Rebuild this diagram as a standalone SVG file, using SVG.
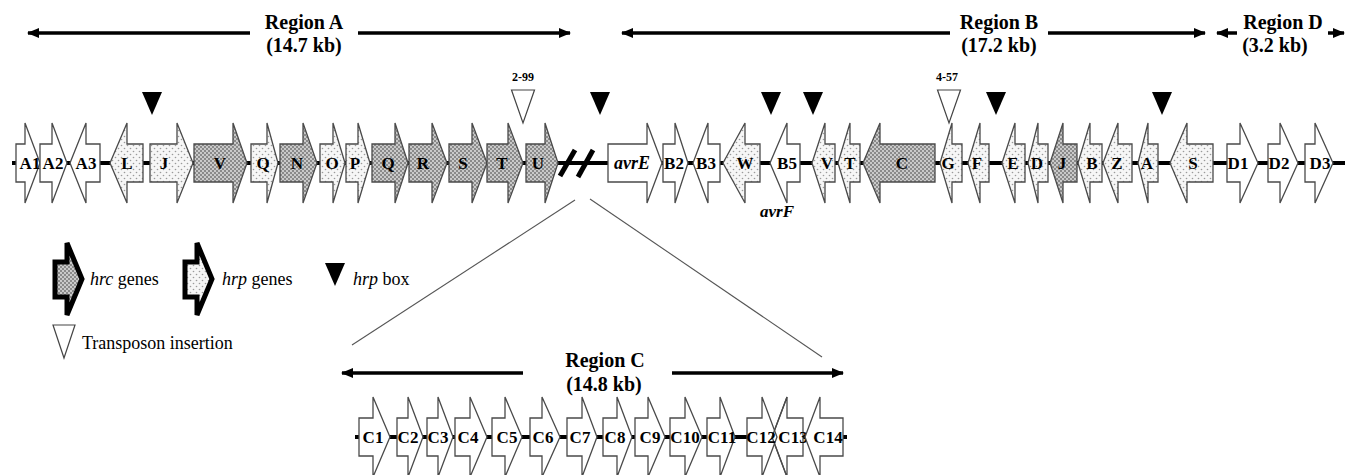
<svg xmlns="http://www.w3.org/2000/svg" width="1350" height="475" viewBox="0 0 1350 475">
<defs>
<pattern id="pHrc" width="4" height="4" patternUnits="userSpaceOnUse">
<rect width="4" height="4" fill="#8a8a8a"/>
<circle cx="1" cy="1" r="0.9" fill="#e8e8e8"/>
<circle cx="3" cy="3" r="0.9" fill="#e8e8e8"/>
</pattern>
<pattern id="pHrp" width="6" height="6" patternUnits="userSpaceOnUse">
<rect width="6" height="6" fill="#f6f6f6"/>
<circle cx="1.5" cy="1.5" r="0.8" fill="#9a9a9a"/>
<circle cx="4.5" cy="4.5" r="0.8" fill="#9a9a9a"/>
</pattern>
<marker id="ah" markerWidth="12" markerHeight="10" refX="11" refY="5" orient="auto" markerUnits="userSpaceOnUse">
<path d="M0,0 L12,5 L0,10 z" fill="#000"/>
</marker>
</defs>
<style>
.g{stroke:#4a4a4a;stroke-width:1.3;stroke-linejoin:miter}
.w{fill:#fff}
.d{fill:url(#pHrp)}
.h{fill:url(#pHrc)}
.t{font-family:"Liberation Serif","Times New Roman",serif;font-weight:bold;font-size:17px;text-anchor:middle;fill:#000}
.ti{font-style:italic}
.rt{font-family:"Liberation Serif","Times New Roman",serif;font-weight:bold;font-size:20px;text-anchor:middle;fill:#000}
.lt{font-family:"Liberation Serif","Times New Roman",serif;font-size:18px;fill:#000}
.ra{stroke:#000;stroke-width:3.5;fill:none;marker-end:url(#ah)}
.box{fill:#000}
.tn{fill:#fff;stroke:#444;stroke-width:1.2}
.sm{font-family:"Liberation Serif","Times New Roman",serif;font-weight:bold;font-size:12px;text-anchor:middle;fill:#000}
</style>

<g id="connectors">
<line x1="12" y1="163" x2="1345" y2="163" stroke="#000" stroke-width="4"/>
<line x1="355" y1="437" x2="847" y2="437" stroke="#000" stroke-width="4"/>
<line x1="575" y1="200" x2="352" y2="345" stroke="#555" stroke-width="1.1"/>
<line x1="590" y1="199" x2="822" y2="357" stroke="#555" stroke-width="1.1"/>
<g id="break">
<line x1="560" y1="176" x2="575" y2="150" stroke="#000" stroke-width="5"/>
<line x1="578" y1="177" x2="593" y2="150" stroke="#000" stroke-width="5"/>
</g>
</g>

<g id="regions">
<g id="regionA">
<line class="ra" x1="250" y1="33" x2="28" y2="33"/>
<line class="ra" x1="358" y1="33" x2="570" y2="33"/>
<text class="rt" x="304" y="29">Region A</text>
<text class="rt" x="304" y="52">(14.7 kb)</text>
</g>
<g id="regionB">
<line class="ra" x1="950" y1="33" x2="622" y2="33"/>
<line class="ra" x1="1048" y1="33" x2="1205" y2="33"/>
<text class="rt" x="999" y="29">Region B</text>
<text class="rt" x="999" y="52">(17.2 kb)</text>
</g>
<g id="regionD">
<line class="ra" x1="1237" y1="33" x2="1217" y2="33"/>
<line class="ra" x1="1328" y1="33" x2="1344" y2="33"/>
<text class="rt" x="1283" y="29">Region D</text>
<text class="rt" x="1275" y="52">(3.2 kb)</text>
</g>
<g id="regionC">
<line class="ra" x1="523" y1="373" x2="342" y2="373"/>
<line class="ra" x1="672" y1="373" x2="843" y2="373"/>
<text class="rt" x="605" y="367">Region C</text>
<text class="rt" x="604" y="391">(14.8 kb)</text>
</g>
</g>

<g id="markers">
<polygon class="box" points="142,92 162,92 152,115"/>
<polygon class="box" points="590,92 610,92 600,115"/>
<polygon class="box" points="761,92 781,92 771,115"/>
<polygon class="box" points="803,92 823,92 813,115"/>
<polygon class="box" points="986,92 1006,92 996,115"/>
<polygon class="box" points="1152,92 1172,92 1162,115"/>
<g id="tn2-99"><polygon class="tn" points="511.5,90 534.5,90 523,123"/><text class="sm" x="523" y="81">2-99</text></g>
<g id="tn4-57"><polygon class="tn" points="937.5,90 960.5,90 949,123"/><text class="sm" x="947" y="81">4-57</text></g>
</g>

<g id="genesA">
<g id="A1"><polygon class="g w" points="16,144 25,144 25,123 40,163 25,203 25,182 16,182"/><text class="t" x="30" y="169">A1</text></g>
<g id="A2"><polygon class="g w" points="40,144 52,144 52,123 67,163 52,203 52,182 40,182"/><text class="t" x="53" y="169">A2</text></g>
<g id="A3"><polygon class="g w" points="100,144 86,144 86,123 70,163 86,203 86,182 100,182"/><text class="t" x="86" y="169">A3</text></g>
<g id="hrpL"><polygon class="g d" points="143,144 127,144 127,123 110,163 127,203 127,182 143,182"/><text class="t" x="127" y="169">L</text></g>
<g id="hrpJ"><polygon class="g d" points="150,144 177,144 177,123 193,163 177,203 177,182 150,182"/><text class="t" x="164" y="169">J</text></g>
<g id="hrcV"><polygon class="g h" points="194,144 233,144 233,123 247,163 233,203 233,182 194,182"/><text class="t" x="220" y="169">V</text></g>
<g id="hrpQ"><polygon class="g d" points="251,144 267,144 267,123 278,163 267,203 267,182 251,182"/><text class="t" x="263" y="169">Q</text></g>
<g id="hrcN"><polygon class="g h" points="280,144 303,144 303,123 317,163 303,203 303,182 280,182"/><text class="t" x="297" y="169">N</text></g>
<g id="hrpO"><polygon class="g d" points="320,144 333,144 333,123 345,163 333,203 333,182 320,182"/><text class="t" x="332" y="169">O</text></g>
<g id="hrpP"><polygon class="g d" points="346,144 358,144 358,123 370,163 358,203 358,182 346,182"/><text class="t" x="355" y="169">P</text></g>
<g id="hrcQ"><polygon class="g h" points="372,144 395,144 395,123 408,163 395,203 395,182 372,182"/><text class="t" x="388" y="169">Q</text></g>
<g id="hrcR"><polygon class="g h" points="409,144 432,144 432,123 447,163 432,203 432,182 409,182"/><text class="t" x="423" y="169">R</text></g>
<g id="hrcS"><polygon class="g h" points="449,144 472,144 472,123 487,163 472,203 472,182 449,182"/><text class="t" x="463" y="169">S</text></g>
<g id="hrcT"><polygon class="g h" points="487,144 508,144 508,123 523,163 508,203 508,182 487,182"/><text class="t" x="502" y="169">T</text></g>
<g id="hrcU"><polygon class="g h" points="526,144 545,144 545,123 558,163 545,203 545,182 526,182"/><text class="t" x="538" y="169">U</text></g>
</g>

<g id="genesB">
<g id="avrE"><polygon class="g w" points="608,144 647,144 647,123 662,163 647,203 647,182 608,182"/><text class="t ti" x="632" y="169" style="font-size:18px">avrE</text></g>
<g id="B2"><polygon class="g w" points="663,144 675,144 675,123 688,163 675,203 675,182 663,182"/><text class="t" x="674" y="169">B2</text></g>
<g id="B3"><polygon class="g w" points="720,144 708,144 708,123 693,163 708,203 708,182 720,182"/><text class="t" x="706" y="169">B3</text></g>
<g id="hrpW"><polygon class="g d" points="760,144 745,144 745,123 723,163 745,203 745,182 760,182"/><text class="t" x="745" y="169">W</text></g>
<g id="B5"><polygon class="g w" points="800,144 787,144 787,123 770,163 787,203 787,182 800,182"/><text class="t" x="787" y="169">B5</text><text class="t ti" x="777" y="217">avrF</text></g>
<g id="hrpV"><polygon class="g d" points="835,144 825,144 825,123 812,163 825,203 825,182 835,182"/><text class="t" x="827" y="169">V</text></g>
<g id="hrpT"><polygon class="g d" points="860,144 850,144 850,123 838,163 850,203 850,182 860,182"/><text class="t" x="850" y="169">T</text></g>
<g id="hrcC"><polygon class="g h" points="935,144 880,144 880,123 863,163 880,203 880,182 935,182"/><text class="t" x="902" y="169">C</text></g>
<g id="hrpG"><polygon class="g d" points="962,144 952,144 952,123 940,163 952,203 952,182 962,182"/><text class="t" x="948" y="169">G</text></g>
<g id="hrpF"><polygon class="g d" points="989,144 980,144 980,123 968,163 980,203 980,182 989,182"/><text class="t" x="977" y="169">F</text></g>
<g id="hrpE"><polygon class="g d" points="1025,144 1015,144 1015,123 1002,163 1015,203 1015,182 1025,182"/><text class="t" x="1013" y="169">E</text></g>
<g id="hrpD"><polygon class="g d" points="1048,144 1038,144 1038,123 1028,163 1038,203 1038,182 1048,182"/><text class="t" x="1037" y="169">D</text></g>
<g id="hrcJ"><polygon class="g h" points="1077,144 1063,144 1063,123 1050,163 1063,203 1063,182 1077,182"/><text class="t" x="1062" y="169">J</text></g>
<g id="hrpB"><polygon class="g d" points="1102,144 1090,144 1090,123 1078,163 1090,203 1090,182 1102,182"/><text class="t" x="1092" y="169">B</text></g>
<g id="hrpZ"><polygon class="g d" points="1132,144 1118,144 1118,123 1103,163 1118,203 1118,182 1132,182"/><text class="t" x="1117" y="169">Z</text></g>
<g id="hrpA"><polygon class="g d" points="1158,144 1148,144 1148,123 1138,163 1148,203 1148,182 1158,182"/><text class="t" x="1147" y="169">A</text></g>
<g id="hrpS"><polygon class="g d" points="1213,144 1187,144 1187,123 1170,163 1187,203 1187,182 1213,182"/><text class="t" x="1193" y="169">S</text></g>
</g>

<g id="genesD">
<g id="D1"><polygon class="g w" points="1227,144 1240,144 1240,123 1258,163 1240,203 1240,182 1227,182"/><text class="t" x="1238" y="169">D1</text></g>
<g id="D2"><polygon class="g w" points="1268,144 1280,144 1280,123 1298,163 1280,203 1280,182 1268,182"/><text class="t" x="1279" y="169">D2</text></g>
<g id="D3"><polygon class="g w" points="1305,144 1315,144 1315,123 1333,163 1315,203 1315,182 1305,182"/><text class="t" x="1320" y="169">D3</text></g>
</g>

<g id="genesC">
<g id="C1"><polygon class="g w" points="359,418 373,418 373,397 390,437 373,477 373,456 359,456"/><text class="t" x="373" y="443">C1</text></g>
<g id="C2"><polygon class="g w" points="397,418 408,418 408,397 423,437 408,477 408,456 397,456"/><text class="t" x="408" y="443">C2</text></g>
<g id="C3"><polygon class="g w" points="427,418 438,418 438,397 453,437 438,477 438,456 427,456"/><text class="t" x="438" y="443">C3</text></g>
<g id="C4"><polygon class="g w" points="455,418 470,418 470,397 487,437 470,477 470,456 455,456"/><text class="t" x="468" y="443">C4</text></g>
<g id="C5"><polygon class="g w" points="492,418 505,418 505,397 522,437 505,477 505,456 492,456"/><text class="t" x="507" y="443">C5</text></g>
<g id="C6"><polygon class="g w" points="530,418 542,418 542,397 560,437 542,477 542,456 530,456"/><text class="t" x="543" y="443">C6</text></g>
<g id="C7"><polygon class="g w" points="567,418 582,418 582,397 597,437 582,477 582,456 567,456"/><text class="t" x="580" y="443">C7</text></g>
<g id="C8"><polygon class="g w" points="603,418 617,418 617,397 632,437 617,477 617,456 603,456"/><text class="t" x="615" y="443">C8</text></g>
<g id="C9"><polygon class="g w" points="635,418 648,418 648,397 665,437 648,477 648,456 635,456"/><text class="t" x="650" y="443">C9</text></g>
<g id="C10"><polygon class="g w" points="670,418 685,418 685,397 702,437 685,477 685,456 670,456"/><text class="t" x="685" y="443">C10</text></g>
<g id="C11"><polygon class="g w" points="707,418 720,418 720,397 735,437 720,477 720,456 707,456"/><text class="t" x="722" y="443">C11</text></g>
<g id="C13"><polygon class="g w" points="803,418 787,418 787,397 772,437 787,477 787,456 803,456"/><text class="t" x="793" y="443">C13</text></g>
<g id="C12"><polygon class="g w" points="747,418 762,418 762,397 777,437 762,477 762,456 747,456"/><polyline class="g" fill="none" points="787,397 772,437 787,477"/><text class="t" x="761" y="443">C12</text></g>
<g id="C14"><polygon class="g w" points="843,418 820,418 820,397 805,437 820,477 820,456 843,456"/><text class="t" x="828" y="443">C14</text></g>
</g>

<g id="legend">
<g id="leg-hrc"><polygon points="55,262 67,262 67,243 82,279 67,315 67,297 55,297" fill="url(#pHrc)" stroke="#000" stroke-width="5" stroke-linejoin="miter"/><text class="lt" x="90" y="285"><tspan font-style="italic">hrc</tspan> genes</text></g>
<g id="leg-hrp"><polygon points="185,262 197,262 197,243 212,279 197,315 197,297 185,297" fill="url(#pHrp)" stroke="#000" stroke-width="5" stroke-linejoin="miter"/><text class="lt" x="222" y="285"><tspan font-style="italic">hrp</tspan> genes</text></g>
<g id="leg-box"><polygon class="box" points="325,263 345,263 335,286"/><text class="lt" x="353" y="285"><tspan font-style="italic">hrp</tspan> box</text></g>
<g id="leg-tn"><polygon class="tn" points="53,325 75,325 64,358"/><text class="lt" x="82" y="349">Transposon insertion</text></g>
</g>
</svg>
